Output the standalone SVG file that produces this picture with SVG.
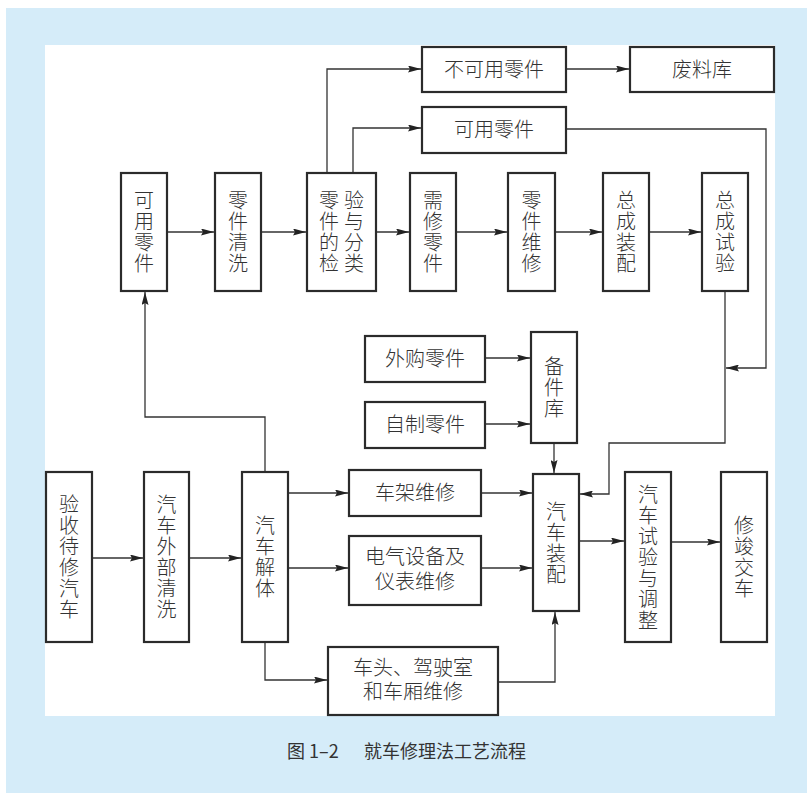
<svg xmlns="http://www.w3.org/2000/svg" width="807" height="793" viewBox="0 0 807 793">
<style>
.box{fill:#fff;stroke:#2b2b2b;stroke-width:2.2}
.ln{fill:none;stroke:#333;stroke-width:1.3}
.ar{marker-end:url(#ah)}
text{font-family:"Noto Sans CJK SC","Noto Sans CJK TC",sans-serif;font-size:20px;fill:#333;font-weight:300}
.c{text-anchor:middle}
.v{writing-mode:vertical-rl;text-anchor:middle;letter-spacing:1px}
.cap{font-size:18px;fill:#333;font-weight:400}
</style>
<defs>
<marker id="ah" markerUnits="userSpaceOnUse" markerWidth="14" markerHeight="7" refX="13" refY="3.5" orient="auto">
<path d="M0,0 L13,3.5 L0,7 L2,3.5 z" fill="#222"/>
</marker>
</defs>
<rect x="6" y="8" width="801" height="785" fill="#d5ecf9"/>
<rect x="45" y="45" width="730" height="671" fill="#fff"/>

<g id="connectors">
<path class="ln ar" d="M327,173 V69 H421"/>
<path class="ln ar" d="M353,173 V128 H421"/>
<path class="ln ar" d="M566,69 H629"/>
<path class="ln ar" d="M566,129 H766 V368 H726"/>
<path class="ln ar" d="M167,232 H214"/>
<path class="ln ar" d="M261,232 H306"/>
<path class="ln ar" d="M376,232 H409"/>
<path class="ln ar" d="M456,232 H507"/>
<path class="ln ar" d="M555,232 H602"/>
<path class="ln ar" d="M649,232 H701"/>
<path class="ln ar" d="M725,291 V443 H609 V494 H580"/>
<path class="ln ar" d="M485,358 H530"/>
<path class="ln ar" d="M485,424 H530"/>
<path class="ln ar" d="M554,443 V473"/>
<path class="ln ar" d="M92,558 H143"/>
<path class="ln ar" d="M189,558 H241"/>
<path class="ln ar" d="M265,472 V417 H145 V292"/>
<path class="ln ar" d="M288,493 H348"/>
<path class="ln ar" d="M288,568 H348"/>
<path class="ln ar" d="M481,493 H532"/>
<path class="ln ar" d="M481,568 H532"/>
<path class="ln ar" d="M265,642 V680 H327"/>
<path class="ln ar" d="M498,682 H555 V612"/>
<path class="ln ar" d="M579,541 H624"/>
<path class="ln ar" d="M671,542 H720"/>
</g>

<g id="n_bukeyong"><rect class="box" x="422" y="47" width="144" height="45"/><text class="c" x="494" y="76.5">不可用零件</text></g>
<g id="n_feiliaoku"><rect class="box" x="630" y="47" width="144" height="45"/><text class="c" x="702" y="76.5">废料库</text></g>
<g id="n_keyong_h"><rect class="box" x="422" y="107" width="144" height="46"/><text class="c" x="494" y="137">可用零件</text></g>

<g id="n_keyong_v"><rect class="box" x="121" y="173" width="46" height="118"/><text class="v" x="144" y="232.5">可用零件</text></g>
<g id="n_qingxi"><rect class="box" x="215" y="173" width="46" height="118"/><text class="v" x="238" y="232.5">零件清洗</text></g>
<g id="n_jianyan"><rect class="box" x="307" y="173" width="69" height="118"/>
<text class="v" x="329" y="232.5">零件的检</text><text class="v" x="354" y="232.5">验与分类</text></g>
<g id="n_xuxiu"><rect class="box" x="410" y="173" width="46" height="118"/><text class="v" x="433" y="232.5">需修零件</text></g>
<g id="n_weixiu"><rect class="box" x="508" y="173" width="47" height="118"/><text class="v" x="531.5" y="232.5">零件维修</text></g>
<g id="n_zongcheng_zp"><rect class="box" x="603" y="173" width="46" height="118"/><text class="v" x="626" y="232.5">总成装配</text></g>
<g id="n_zongcheng_sy"><rect class="box" x="702" y="173" width="46" height="118"/><text class="v" x="725" y="232.5">总成试验</text></g>

<g id="n_waigou"><rect class="box" x="365" y="336" width="120" height="46"/><text class="c" x="425" y="366">外购零件</text></g>
<g id="n_zizhi"><rect class="box" x="365" y="402" width="120" height="46"/><text class="c" x="425" y="432">自制零件</text></g>
<g id="n_beijianku"><rect class="box" x="531" y="332" width="46" height="111"/><text class="v" x="554" y="388">备件库</text></g>

<g id="n_yanshou"><rect class="box" x="46" y="472" width="46" height="170"/><text class="v" x="69" y="557.5">验收待修汽车</text></g>
<g id="n_waibu"><rect class="box" x="144" y="472" width="45" height="170"/><text class="v" x="166.5" y="557.5">汽车外部清洗</text></g>
<g id="n_jieti"><rect class="box" x="242" y="472" width="46" height="170"/><text class="v" x="265" y="557.5">汽车解体</text></g>

<g id="n_chejia"><rect class="box" x="349" y="470" width="132" height="46"/><text class="c" x="415" y="500">车架维修</text></g>
<g id="n_dianqi"><rect class="box" x="349" y="536" width="132" height="69"/>
<text class="c"><tspan x="415" y="564">电气设备及</tspan><tspan x="415" y="589">仪表维修</tspan></text></g>
<g id="n_chetou"><rect class="box" x="328" y="647" width="170" height="68"/>
<text class="c"><tspan x="413" y="675">车头、驾驶室</tspan><tspan x="413" y="699">和车厢维修</tspan></text></g>

<g id="n_zhuangpei"><rect class="box" x="533" y="474" width="46" height="137"/><text class="v" x="556" y="543">汽车装配</text></g>
<g id="n_shiyan"><rect class="box" x="625" y="472" width="46" height="170"/><text class="v" x="648" y="557.5">汽车试验与调整</text></g>
<g id="n_jiaoche"><rect class="box" x="721" y="472" width="46" height="170"/><text class="v" x="744" y="557.5">修竣交车</text></g>

<text class="cap" x="287" y="758">图 1–2</text>
<text class="cap" x="364" y="758">就车修理法工艺流程</text>
</svg>
